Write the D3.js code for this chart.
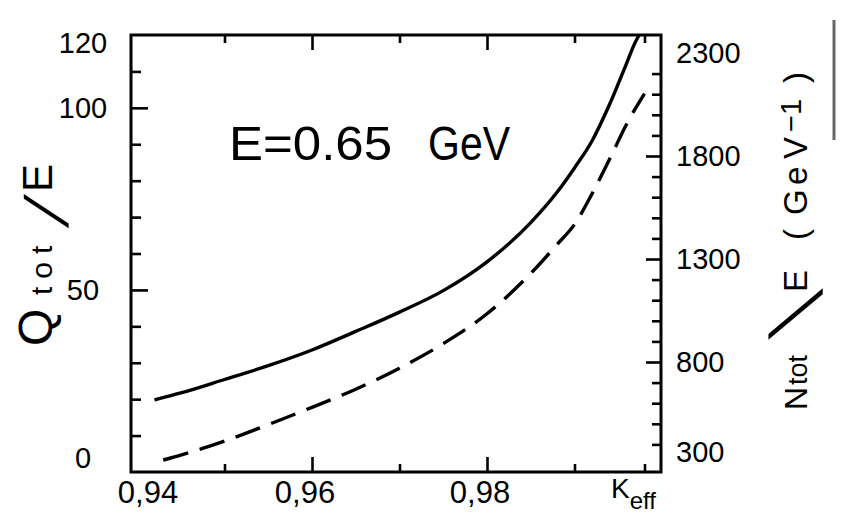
<!DOCTYPE html>
<html>
<head>
<meta charset="utf-8">
<script src="https://cdn.jsdelivr.net/npm/d3@7"></script>
<style>
  body { margin: 0; background: #fff; }
  svg { display: block; font-family: "Liberation Sans", Arial, sans-serif; }
</style>
</head>
<body>
<svg width="841" height="527"></svg>
<script>
// solid curve: Q_tot/E (left axis)
const keffSolid = [0.942, 0.945, 0.950, 0.955, 0.960, 0.965, 0.970, 0.975, 0.980, 0.985, 0.988, 0.990, 0.992, 0.994, 0.996, 0.997, 0.9974];
const qTot = [19.8, 21.7, 25.4, 29.2, 33.5, 38.6, 43.9, 49.8, 57.7, 68.5, 76.8, 83.5, 90.9, 100.9, 112.5, 118.3, 120];

// dashed curve: N_tot/E (right axis)
const keffDashed = [0.943, 0.945, 0.950, 0.955, 0.960, 0.965, 0.970, 0.975, 0.980, 0.985, 0.988, 0.990, 0.992, 0.994, 0.996, 0.998];
const nTot = [324, 348, 416, 496, 580, 668, 770, 889, 1034, 1230, 1370, 1468, 1616, 1784, 1958, 2103];

// axis ticks and labels
const keffMinor = [0.95, 0.97, 0.99, 0.998];
const keffMajor = [0.96, 0.98];
const keffLabels = ["0,94", "0,96", "0,98"];
const keffLabelValues = [0.94, 0.96, 0.98];
const qMinor = [10, 20, 30, 40, 60, 70, 80, 90, 110];
const qMajor = [50, 100];
const qLabels = [0, 50, 100, 120];
const nMinor = [400, 500, 600, 700, 900, 1000, 1100, 1200, 1400, 1500, 1600, 1700, 1900, 2000, 2100, 2200];
const nMajor = [800, 1300, 1800];
const nLabels = [300, 800, 1300, 1800, 2300];

const svg = d3.select('svg');
const frame = { left: 131, right: 661, top: 35, bottom: 472 };

const x = d3.scaleLinear().domain([0.94, 1.0]).range([137, 662]);
const yLeft = d3.scaleLinear().domain([0, 120]).range([472, 35]);
const yRight = d3.scaleLinear().domain([300, 2300]).range([465, 53]);

const tickAxis = (axis, values, size) => g => g
    .call(axis.tickValues(values).tickSize(-size).tickFormat(""))
    .call(g => g.select(".domain").remove())
    .call(g => g.selectAll("line").attr("stroke", "#000").attr("stroke-width", 2.6));

svg.append("g").attr("transform", `translate(0,${frame.bottom})`).call(tickAxis(d3.axisBottom(x), keffMinor, 8));
svg.append("g").attr("transform", `translate(0,${frame.bottom})`).call(tickAxis(d3.axisBottom(x), keffMajor, 15));
svg.append("g").attr("transform", `translate(0,${frame.top})`).call(tickAxis(d3.axisTop(x), keffMinor, 8));
svg.append("g").attr("transform", `translate(0,${frame.top})`).call(tickAxis(d3.axisTop(x), keffMajor, 15));
svg.append("g").attr("transform", `translate(${frame.left},0)`).call(tickAxis(d3.axisLeft(yLeft), qMinor, 10));
svg.append("g").attr("transform", `translate(${frame.left},0)`).call(tickAxis(d3.axisLeft(yLeft), qMajor, 17));
svg.append("g").attr("transform", `translate(${frame.right},0)`).call(tickAxis(d3.axisRight(yRight), nMinor, 9));
svg.append("g").attr("transform", `translate(${frame.right},0)`).call(tickAxis(d3.axisRight(yRight), nMajor, 15));

svg.append("rect")
    .attr("x", frame.left).attr("y", frame.top)
    .attr("width", frame.right - frame.left).attr("height", frame.bottom - frame.top)
    .attr("fill", "none").attr("stroke", "#000").attr("stroke-width", 3);

// curves
const solidLine = d3.line()
    .x((d, i) => x(keffSolid[i]))
    .y(d => yLeft(d))
    .curve(d3.curveMonotoneX);

const dashedLine = d3.line()
    .x((d, i) => x(keffDashed[i]))
    .y(d => yRight(d))
    .curve(d3.curveMonotoneX);

svg.append("path")
    .attr("d", solidLine(qTot))
    .attr("fill", "none").attr("stroke", "#000").attr("stroke-width", 3.4);

svg.append("path")
    .attr("d", dashedLine(nTot))
    .attr("fill", "none").attr("stroke", "#000").attr("stroke-width", 3.4)
    .attr("stroke-dasharray", "26,12");

// tick labels
svg.append("g")
    .selectAll("text")
    .data(qLabels)
    .join("text")
        .attr("x", 83)
        .attr("y", d => Math.max(43, Math.min(458, yLeft(d))))
        .attr("dy", "0.36em")
        .attr("text-anchor", "middle")
        .attr("font-size", 29)
        .text(d => d);

svg.append("g")
    .selectAll("text")
    .data(nLabels)
    .join("text")
        .attr("x", 676)
        .attr("y", d => Math.max(47, Math.min(452, yRight(d))))
        .attr("dy", "0.36em")
        .attr("font-size", 29)
        .text(d => d);

svg.append("g")
    .selectAll("text")
    .data(keffLabelValues)
    .join("text")
        .attr("x", d => Math.max(148, x(d) - 7))
        .attr("y", 503)
        .attr("text-anchor", "middle")
        .attr("font-size", 31)
        .text((d, i) => keffLabels[i]);

// x axis name
const keff = svg.append("text").attr("x", 611).attr("y", 498).attr("font-size", 28);
keff.append("tspan").text("K");
keff.append("tspan").attr("font-size", 24).attr("dy", 11).text("eff");

// annotation
svg.append("text").attr("x", 229).attr("y", 160).attr("font-size", 48)
    .attr("textLength", 163).attr("lengthAdjust", "spacingAndGlyphs").text("E=0.65");
svg.append("text").attr("x", 428).attr("y", 160).attr("font-size", 48)
    .attr("textLength", 82).attr("lengthAdjust", "spacingAndGlyphs").text("GeV");

// left axis title, reads upwards
const qTitle = svg.append("text")
    .attr("transform", "translate(52,346) rotate(-90)");
qTitle.append("tspan").attr("x", 0).attr("font-size", 48).text("Q");
qTitle.append("tspan").attr("x", 51).attr("font-size", 30).attr("letter-spacing", 8).text("tot");
qTitle.append("tspan").attr("x", 154).attr("font-size", 42).text("E");
svg.append("text")
    .attr("transform", "translate(68,228) rotate(-90) skewX(-21)")
    .attr("font-size", 61)
    .text("/");

// right axis title, reads upwards
const nTitle = svg.append("text")
    .attr("transform", "translate(807,410) rotate(-90)")
    .attr("font-size", 33);
nTitle.append("tspan").attr("x", 0).attr("font-size", 32).text("N");
nTitle.append("tspan").attr("x", 25).attr("font-size", 27).text("tot");
nTitle.append("tspan").attr("x", 118).text("E");
nTitle.append("tspan").attr("x", 170).text("(");
nTitle.append("tspan").attr("x", 195).text("G");
nTitle.append("tspan").attr("x", 225).text("e");
nTitle.append("tspan").attr("x", 251).text("V");
nTitle.append("tspan").attr("x", 278).attr("dy", -6).attr("font-size", 29).text("\u22121");
nTitle.append("tspan").attr("x", 327).attr("dy", 6).text(")");
// the hand-drawn slash leans the other way here
svg.append("text")
    .attr("transform", "translate(822,295) rotate(-90) skewX(48)")
    .attr("font-size", 74)
    .text("/");

// scan edge mark at the right border
svg.append("line")
    .attr("x1", 834).attr("x2", 834).attr("y1", 20).attr("y2", 140)
    .attr("stroke", "#666").attr("stroke-width", 3);
</script>
</body>
</html>
